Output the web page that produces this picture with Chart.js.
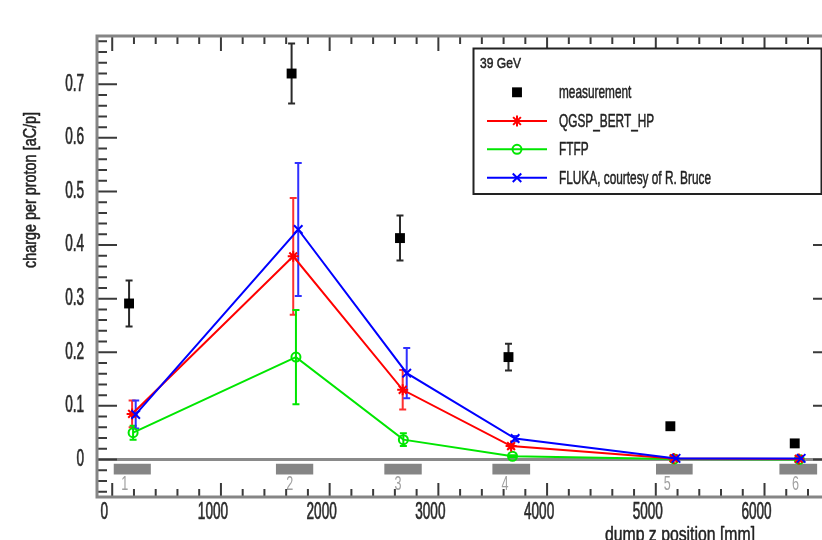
<!DOCTYPE html>
<html>
<head>
<meta charset="utf-8">
<script src="https://cdn.jsdelivr.net/npm/chart.js@4.4.0/dist/chart.umd.min.js"></script>
<style>
  html, body { margin: 0; padding: 0; background: #fff; overflow: hidden; }
  #wrap { width: 822px; height: 540px; overflow: hidden; position: relative; }
  canvas { display: block; }
</style>
</head>
<body>
<div id="wrap"><canvas id="c" width="850" height="540"></canvas></div>
<script>
// ---- data ----
const beamLabel = '39 GeV';
const seriesNames = ['measurement', 'QGSP_BERT_HP', 'FTFP', 'FLUKA, courtesy of R. Bruce'];

// dump z position [mm] and charge per proton [aC/p]
const measX   = [155, 1650, 2647, 3645, 5134, 6278];
const measY   = [0.291, 0.720, 0.413, 0.191, 0.062, 0.030];
const measErr = [0.043, 0.056, 0.042, 0.025, 0, 0];

const qgspX   = [183, 1665, 2672, 3669, 5164, 6315];
const qgspY   = [0.085, 0.379, 0.130, 0.025, 0.002, 0.001];
const qgspErr = [0.025, 0.109, 0.037, 0.004, 0, 0];

const ftfpX   = [192, 1690, 2678, 3682, 5170, 6320];
const ftfpY   = [0.050, 0.191, 0.037, 0.006, 0.001, 0.000];
const ftfpErr = [0.013, 0.088, 0.012, 0.002, 0, 0];

const flukaX   = [216, 1711, 2709, 3706, 5186, 6337];
const flukaY   = [0.084, 0.429, 0.161, 0.039, 0.002, 0.002];
const flukaErr = [0.026, 0.124, 0.047, 0.005, 0, 0];

// beam dump blocks along z [mm]
const dumpStart  = [14, 1506, 2503, 3497, 5002, 6137];
const dumpEnd    = [355, 1849, 2847, 3844, 5339, 6484];
const dumpLabels = ['1', '2', '3', '4', '5', '6'];
const dumpLabelX = [115, 1634, 2629, 3614, 5106, 6285];

// axes
const xTicks = [0, 1000, 2000, 3000, 4000, 5000, 6000];
const yTicks = [0, 0.1, 0.2, 0.3, 0.4, 0.5, 0.6, 0.7];
const xMin = -140, xMax = 6630, xStep = 1000, xMinor = 200;
const yMin = -0.07, yMax = 0.79, yStep = 0.1, yMinor = 0.02;

const pts = (xs, ys) => xs.map((x, i) => ({ x, y: ys[i] }));

const FONT = '"Liberation Sans", Arial, sans-serif';

// narrow text: draw glyphs with a horizontal squeeze about their anchor
const protoFill = CanvasRenderingContext2D.prototype.fillText;
const protoStroke = CanvasRenderingContext2D.prototype.strokeText;
function squeeze(proto) {
  return function (s, x, y, mw) {
    const k = this.__sx || 1;
    if (k === 1) return mw === undefined ? proto.call(this, s, x, y) : proto.call(this, s, x, y, mw);
    this.save();
    this.translate(x, y);
    this.scale(k, 1);
    proto.call(this, s, 0, 0);
    this.restore();
  };
}
function condense(ctx) {
  ctx.fillText = squeeze(protoFill);
  ctx.strokeText = squeeze(protoStroke);
}
function label(ctx, s, x, y, o) {
  ctx.save();
  ctx.font = `${o.size}px ${FONT}`;
  ctx.fillStyle = o.color || '#222';
  ctx.strokeStyle = o.color || '#222';
  ctx.lineWidth = o.stroke || 0;
  ctx.lineJoin = 'round';
  ctx.textAlign = o.align || 'left';
  ctx.textBaseline = o.baseline || 'middle';
  ctx.translate(x, y);
  if (o.rotate) ctx.rotate(o.rotate);
  ctx.scale(o.sx || 1, 1);
  if (o.stroke) protoStroke.call(ctx, s, 0, 0);
  protoFill.call(ctx, s, 0, 0);
  ctx.restore();
}

const extras = {
  id: 'extras',
  beforeInit(chart) { condense(chart.ctx); },
  beforeDraw(chart) { chart.ctx.__sx = 0.59; },
  beforeDatasetsDraw(chart) {
    const ctx = chart.ctx, a = chart.chartArea;
    const xs = chart.scales.x, ys = chart.scales.y;
    ctx.__sx = 1;
    ctx.save();
    ctx.beginPath();
    ctx.rect(a.left, a.top, a.right - a.left, a.bottom - a.top);
    ctx.clip();
    // zero line
    const y0 = ys.getPixelForValue(0);
    ctx.strokeStyle = '#8a8a8a';
    ctx.lineWidth = 3;
    ctx.beginPath();
    ctx.moveTo(a.left, y0);
    ctx.lineTo(a.right, y0);
    ctx.stroke();
    // dump blocks
    const bt = ys.getPixelForValue(-0.008), bb = ys.getPixelForValue(-0.028);
    ctx.fillStyle = '#858585';
    dumpStart.forEach((s, i) => {
      const l = xs.getPixelForValue(s), r = xs.getPixelForValue(dumpEnd[i]);
      ctx.fillRect(l, bt, r - l, bb - bt);
    });
    const ly = ys.getPixelForValue(-0.047);
    dumpLabels.forEach((t, i) => {
      label(ctx, t, xs.getPixelForValue(dumpLabelX[i]), ly, { size: 21, sx: 0.6, align: 'center', color: '#a0a0a0' });
    });
    // error bars
    chart.data.datasets.forEach((ds, di) => {
      const meta = chart.getDatasetMeta(di);
      const errs = ds.errors || [];
      ctx.strokeStyle = ds.errColor;
      ctx.lineWidth = 2;
      meta.data.forEach((el, j) => {
        const e = errs[j];
        if (!e) return;
        const v = ds.data[j].y;
        const t = ys.getPixelForValue(v + e), b = ys.getPixelForValue(v - e);
        ctx.beginPath();
        ctx.moveTo(el.x, t); ctx.lineTo(el.x, b);
        ctx.moveTo(el.x - 3.5, t); ctx.lineTo(el.x + 3.5, t);
        ctx.moveTo(el.x - 3.5, b); ctx.lineTo(el.x + 3.5, b);
        ctx.stroke();
      });
    });
    ctx.restore();
  },
  afterDraw(chart) {
    const ctx = chart.ctx, a = chart.chartArea;
    const xs = chart.scales.x, ys = chart.scales.y;
    ctx.__sx = 1;
    ctx.save();
    // ticks on all four sides, pointing inward
    ctx.strokeStyle = '#3a3a3a';
    ctx.lineWidth = 2;
    ctx.beginPath();
    for (let k = Math.ceil(xMin / xMinor); k * xMinor <= xMax; k++) {
      const v = k * xMinor, p = xs.getPixelForValue(v);
      const major = Math.abs(v / xStep - Math.round(v / xStep)) < 1e-6;
      ctx.moveTo(p, a.bottom); ctx.lineTo(p, a.bottom - (major ? 14 : 8));
      ctx.moveTo(p, a.top); ctx.lineTo(p, a.top + (major ? 15 : 8));
    }
    for (let k = Math.ceil(yMin / yMinor - 1e-6); k * yMinor <= yMax + 1e-9; k++) {
      const v = k * yMinor, p = ys.getPixelForValue(v);
      const major = Math.abs(v / yStep - Math.round(v / yStep)) < 1e-6;
      ctx.moveTo(a.left, p); ctx.lineTo(a.left + (major ? 20 : 10), p);
      ctx.moveTo(a.right, p); ctx.lineTo(a.right - (major ? 20 : 10), p);
    }
    ctx.stroke();
    // frame
    ctx.strokeStyle = '#858585';
    ctx.lineWidth = 3;
    ctx.strokeRect(a.left, a.top, a.right - a.left, a.bottom - a.top);
    ctx.restore();

    // axis titles
    label(ctx, 'charge per proton [aC/p]', 31, 190, { size: 18, sx: 0.8, align: 'center', rotate: -Math.PI / 2, color: '#222', stroke: 0.5 });
    label(ctx, 'dump z position [mm]', 680, 541, { size: 20, sx: 0.79, align: 'center', baseline: 'alphabetic', color: '#222', stroke: 0.5 });

    // legend
    const bx = 473.5, by = 48.5, bw = 348, bh = 145.5;
    ctx.save();
    ctx.fillStyle = '#fff';
    ctx.fillRect(bx, by, bw, bh);
    ctx.strokeStyle = '#222';
    ctx.lineWidth = 2;
    ctx.strokeRect(bx, by, bw, bh);
    ctx.restore();
    label(ctx, beamLabel, 480, 64, { size: 15.5, sx: 0.78, stroke: 0.5 });
    const rows = [92.3, 121, 149.3, 177.7];
    chart.data.datasets.forEach((ds, i) => {
      const y = rows[i];
      ctx.save();
      if (ds.showLine !== false) {
        ctx.strokeStyle = ds.borderColor;
        ctx.lineWidth = 2;
        ctx.beginPath();
        ctx.moveTo(487, y); ctx.lineTo(547, y);
        ctx.stroke();
      }
      ctx.strokeStyle = ds.pointBorderColor;
      ctx.fillStyle = ds.pointBackgroundColor;
      ctx.lineWidth = ds.pointBorderWidth;
      Chart.helpers.drawPoint(ctx, { pointStyle: ds.pointStyle, radius: ds.pointRadius, rotation: 0, borderWidth: ds.pointBorderWidth }, 517, y);
      ctx.restore();
      label(ctx, ds.label, 559, y + 1, { size: 18.5, sx: 0.64, stroke: 0.5 });
    });
  }
};

new Chart(document.getElementById('c'), {
  type: 'line',
  data: {
    datasets: [
      {
        label: seriesNames[0], data: pts(measX, measY), errors: measErr, errColor: '#2a2a2a',
        showLine: false, order: 0,
        pointStyle: 'rect', pointRadius: 7, pointBorderWidth: 0,
        pointBackgroundColor: '#000', pointBorderColor: '#000', borderColor: '#000'
      },
      {
        label: seriesNames[1], data: pts(qgspX, qgspY), errors: qgspErr, errColor: '#ff3030',
        order: 2, borderColor: '#ff0000', borderWidth: 2,
        pointStyle: 'star', pointRadius: 5.5, pointBorderWidth: 2,
        pointBackgroundColor: '#ff0000', pointBorderColor: '#ff0000'
      },
      {
        label: seriesNames[2], data: pts(ftfpX, ftfpY), errors: ftfpErr, errColor: '#00e600',
        order: 3, borderColor: '#00e600', borderWidth: 2,
        pointStyle: 'circle', pointRadius: 4.5, pointBorderWidth: 2,
        pointBackgroundColor: 'rgba(0,0,0,0)', pointBorderColor: '#00e600'
      },
      {
        label: seriesNames[3], data: pts(flukaX, flukaY), errors: flukaErr, errColor: '#3030ff',
        order: 1, borderColor: '#0000ff', borderWidth: 2,
        pointStyle: 'crossRot', pointRadius: 6, pointBorderWidth: 2,
        pointBackgroundColor: '#0000ff', pointBorderColor: '#0000ff'
      }
    ]
  },
  options: {
    responsive: false,
    animation: false,
    layout: { padding: { top: 36, right: 17, left: 0, bottom: 0 } },
    plugins: { legend: { display: false }, tooltip: { enabled: false } },
    scales: {
      x: {
        type: 'linear', min: xMin, max: xMax,
        afterBuildTicks(s) { s.ticks = xTicks.map(value => ({ value })); },
        afterFit(s) { s.height = 43; s.paddingLeft = 0; s.paddingRight = 0; },
        grid: { display: false, drawTicks: false },
        border: { display: false },
        ticks: {
          maxRotation: 0, autoSkip: false,
          padding: 2, labelOffset: -8, color: '#2a2a2a',
          textStrokeColor: '#2a2a2a', textStrokeWidth: 0.7,
          font: { family: FONT, size: 23 },
          callback: v => String(v)
        }
      },
      y: {
        type: 'linear', min: yMin, max: yMax,
        afterBuildTicks(s) { s.ticks = yTicks.map(value => ({ value })); },
        afterFit(s) { s.width = 97; s.paddingTop = 0; s.paddingBottom = 0; },
        grid: { display: false, drawTicks: false },
        border: { display: false },
        ticks: {
          autoSkip: false,
          padding: 13, color: '#2a2a2a',
          textStrokeColor: '#2a2a2a', textStrokeWidth: 0.7,
          font: { family: FONT, size: 23 },
          callback: v => Math.abs(v) < 1e-9 ? '0' : v.toFixed(1)
        }
      }
    }
  },
  plugins: [extras]
});
</script>
</body>
</html>
